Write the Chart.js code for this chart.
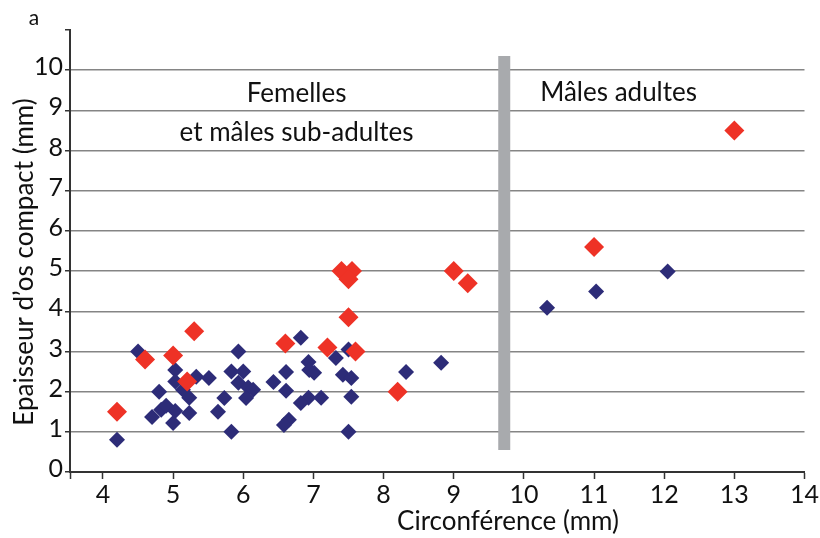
<!DOCTYPE html>
<html>
<head>
<meta charset="utf-8">
<script src="https://cdn.jsdelivr.net/npm/chart.js@4"></script>
<style>
  html, body { margin: 0; padding: 0; background: #fff; }
</style>
</head>
<body>
<canvas id="myChart" width="820" height="538"></canvas>
<script>
// circumference (mm) / compact bone thickness (mm)
const blueCirc = [4.2, 4.5, 4.8, 4.7, 4.83, 4.9, 5.03, 5.0, 5.03, 5.03,
  5.14, 5.23, 5.23, 5.33, 5.51, 5.64, 5.73, 5.83, 5.83, 5.93,
  6.0, 5.93, 6.07, 6.14, 6.04, 6.43, 6.61, 6.61, 6.82, 6.93,
  6.94, 7.01, 7.32, 7.42, 7.54, 7.54, 7.11, 6.93, 6.82, 6.65,
  6.58, 7.5, 7.5, 8.32, 8.82, 10.33, 11.03, 12.05];
const blueThick = [0.8, 3.0, 2.0, 1.37, 1.55, 1.65, 1.52, 1.22, 2.54, 2.25,
  2.05, 1.85, 1.47, 2.37, 2.34, 1.5, 1.84, 1.0, 2.5, 3.0,
  2.5, 2.22, 2.1, 2.05, 1.84, 2.24, 2.49, 2.02, 3.34, 2.74,
  2.54, 2.47, 2.84, 2.42, 2.34, 1.87, 1.85, 1.85, 1.72, 1.3,
  1.17, 1.0, 3.05, 2.49, 2.72, 4.09, 4.49, 4.99];

const redCirc = [4.2, 4.6, 5.0, 5.3, 5.2, 6.6, 7.2, 7.4, 7.55, 7.5, 7.5, 7.6, 8.2, 9.0, 9.2, 11.0, 13.0];
const redThick = [1.5, 2.8, 2.9, 3.5, 2.25, 3.2, 3.1, 5.0, 5.0, 4.8, 3.85, 3.0, 2.0, 5.0, 4.7, 5.6, 8.5];

// grey separator between the two groups
const sepX = [9.72, 9.72];
const sepY = [0.55, 10.35];

const xTicks = [3.53, 4, 5, 6, 7, 8, 9, 10, 11, 12, 13, 14];
const yTicks = [0, 1, 2, 3, 4, 5, 6, 7, 8, 9, 10, 11];

const FONT = "Lato";

function toPoints(xs, ys) {
  return xs.map((x, i) => ({x: x, y: ys[i]}));
}

const textPlugin = {
  id: 'texts',
  afterDraw(chart) {
    const c = chart.ctx;
    const xs = chart.scales.x, ys = chart.scales.y;
    c.save();
    c.fillStyle = '#111';
    c.textAlign = 'center';
    c.textBaseline = 'alphabetic';

    c.font = '21px ' + FONT;
    c.fillText('a', 34, 25);

    c.font = '26px ' + FONT;
    c.fillText('Femelles', xs.getPixelForValue(6.76), ys.getPixelForValue(9.2));
    c.fillText('et mâles sub-adultes', xs.getPixelForValue(6.76), ys.getPixelForValue(8.25));
    c.fillText('Mâles adultes', xs.getPixelForValue(11.35), ys.getPixelForValue(9.23));

    // axis titles
    c.fillText('Circonférence (mm)', 508, 530);
    c.translate(33, 262);
    c.rotate(-Math.PI / 2);
    c.fillText("Epaisseur d’os compact (mm)", 0, 0);
    c.restore();
  }
};

const ctx = document.getElementById('myChart').getContext('2d');

new Chart(ctx, {
  type: 'scatter',
  data: {
    datasets: [
      {
        data: toPoints(redCirc, redThick),
        pointStyle: 'rectRot',
        pointRadius: 10,
        pointHoverRadius: 10,
        pointBorderWidth: 0,
        backgroundColor: '#ee3226',
        borderColor: '#ee3226',
        order: 0
      },
      {
        data: toPoints(blueCirc, blueThick),
        pointStyle: 'rectRot',
        pointRadius: 8,
        pointHoverRadius: 8,
        pointBorderWidth: 0,
        backgroundColor: '#2d2c78',
        borderColor: '#2d2c78',
        order: 1
      },
      {
        type: 'line',
        data: toPoints(sepX, sepY),
        showLine: true,
        borderColor: '#a8aaad',
        borderWidth: 12,
        borderCapStyle: 'butt',
        pointRadius: 0,
        fill: false,
        order: 2
      }
    ]
  },
  options: {
    responsive: false,
    animation: false,
    devicePixelRatio: 1,
    layout: { padding: { top: 30, right: 14, left: 0, bottom: 0 } },
    plugins: {
      legend: { display: false },
      tooltip: { enabled: false }
    },
    scales: {
      x: {
        type: 'linear',
        min: 3.53,
        max: 14,
        afterBuildTicks: (scale) => { scale.ticks = xTicks.map(v => ({value: v})); },
        afterFit: (scale) => { scale.height = 66; },
        border: { color: '#333', width: 2 },
        grid: { drawOnChartArea: false, tickLength: 7, tickColor: '#333', tickWidth: 1.5 },
        ticks: {
          color: '#111',
          font: { family: FONT, size: 25 },
          padding: 1,
          maxRotation: 0,
          autoSkip: false,
          callback: (v) => (v === 3.53 ? '' : v)
        }
      },
      y: {
        type: 'linear',
        min: 0,
        max: 11,
        afterBuildTicks: (scale) => { scale.ticks = yTicks.map(v => ({value: v})); },
        afterFit: (scale) => { scale.width = 70; },
        border: { color: '#333', width: 2 },
        grid: {
          color: (c) => (c.tick && (c.tick.value === 11 || c.tick.value === 0) ? 'rgba(0,0,0,0)' : '#858585'),
          lineWidth: 1.5,
          tickLength: 5,
          tickColor: '#333',
          tickWidth: 1.5
        },
        ticks: {
          color: '#111',
          font: { family: FONT, size: 25 },
          padding: 2,
          labelOffset: -3,
          callback: (v) => (v === 11 ? '' : v)
        }
      }
    }
  },
  plugins: [textPlugin]
});
</script>
</body>
</html>
